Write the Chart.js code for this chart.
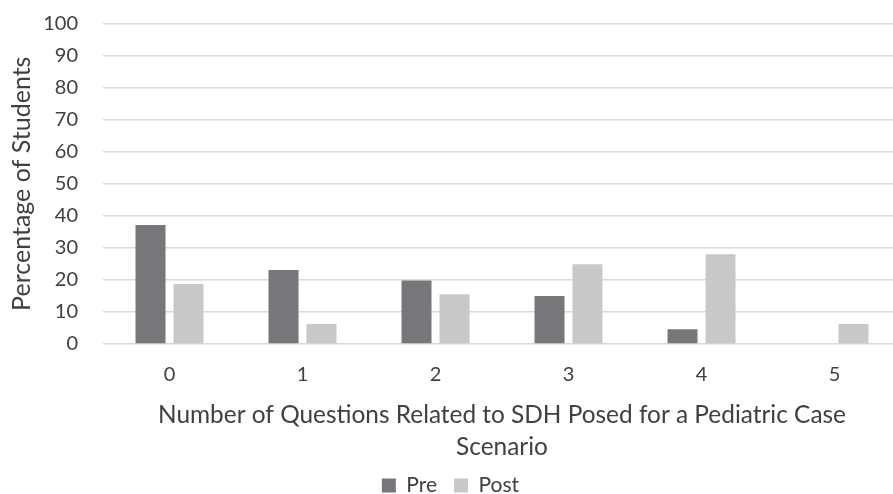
<!DOCTYPE html>
<html>
<head>
<meta charset="utf-8">
<script src="https://cdn.jsdelivr.net/npm/chart.js@4/dist/chart.umd.min.js"></script>
<style>
  html, body { margin: 0; padding: 0; background: #ffffff; overflow: hidden; }
  #wrap { width: 893px; height: 494px; overflow: hidden; }
</style>
</head>
<body>
<div id="wrap"><canvas id="chart" width="908" height="506"></canvas></div>
<script>
// Number of SDH questions posed, and share of students at each count
const categories = ['0', '1', '2', '3', '4', '5'];
const preValues = [37.1, 23.1, 19.8, 15.0, 4.6, 0];
const postValues = [18.7, 6.2, 15.5, 24.9, 28.0, 6.2];
const yTicks = [0, 10, 20, 30, 40, 50, 60, 70, 80, 90, 100];

const FONT = 'Lato, "DejaVu Sans", sans-serif';
const TEXT = '#404040';

new Chart(document.getElementById('chart'), {
  type: 'bar',
  data: {
    labels: categories,
    datasets: [
      { label: 'Pre', data: preValues, backgroundColor: '#76777b', borderWidth: 0 },
      { label: 'Post', data: postValues, backgroundColor: '#c7c8ca', borderWidth: 0 }
    ]
  },
  options: {
    responsive: false,
    animation: false,
    layout: { padding: { top: 0, right: 7, left: 0, bottom: 0 } },
    datasets: { bar: { categoryPercentage: 0.571, barPercentage: 0.79 } },
    plugins: {
      legend: {
        position: 'bottom',
        labels: {
          boxWidth: 14, boxHeight: 14, padding: 17,
          color: TEXT, font: { family: FONT, size: 21 }
        }
      },
      tooltip: { enabled: false }
    },
    scales: {
      x: {
        grid: { display: false, drawTicks: false },
        border: { display: false },
        ticks: { color: TEXT, font: { family: FONT, size: 20 }, padding: 19 },
        title: {
          display: true,
          text: ['Number of Questions Related to SDH Posed for a Pediatric Case', 'Scenario'],
          color: TEXT,
          font: { family: FONT, size: 24.4, lineHeight: 1.3 },
          padding: { top: -6.4, bottom: -5 }
        }
      },
      y: {
        min: 0, max: 100,
        afterBuildTicks: (axis) => { axis.ticks = yTicks.map(v => ({ value: v })); },
        afterFit: (axis) => {
          axis.width = 103;
          axis.paddingTop = 23.5;
          axis.paddingBottom = 12;
        },
        grid: { color: '#d9d9d9', lineWidth: 1.5, drawTicks: false },
        border: { display: false },
        ticks: { color: TEXT, font: { family: FONT, size: 20 }, padding: 25 },
        title: {
          display: true,
          text: 'Percentage of Students',
          color: TEXT,
          font: { family: FONT, size: 25 },
          padding: { top: 7, bottom: 0 }
        }
      }
    }
  }
});
</script>
</body>
</html>
